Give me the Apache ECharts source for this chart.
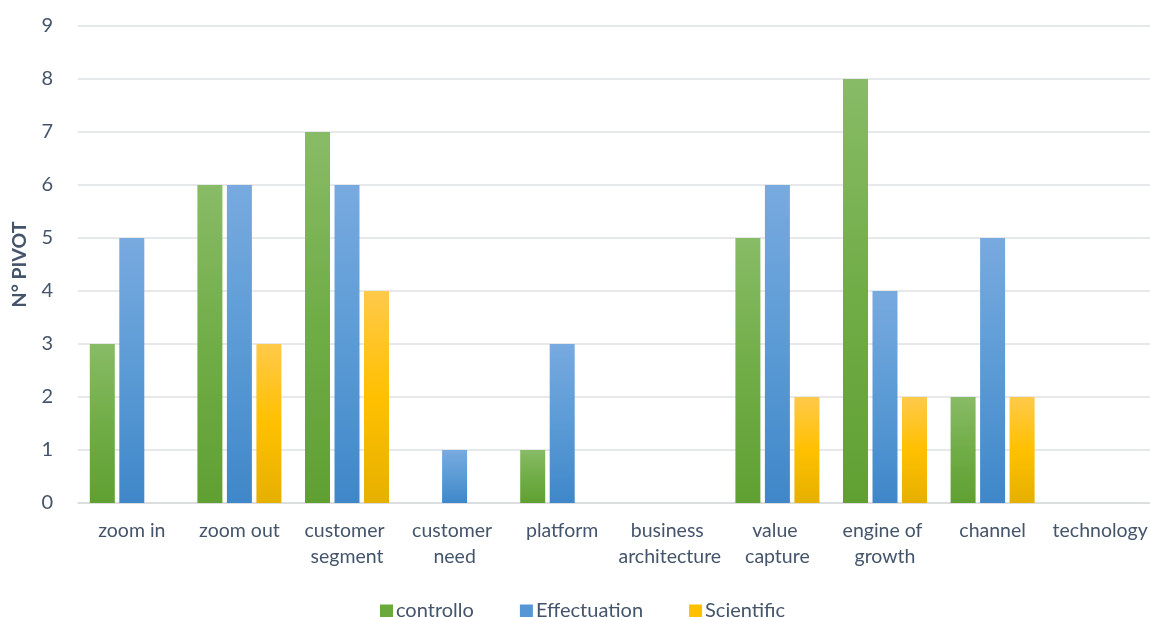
<!DOCTYPE html>
<html>
<head>
<meta charset="utf-8">
<script src="https://cdn.jsdelivr.net/npm/echarts@6/dist/echarts.min.js"></script>
<style>
  html, body { margin: 0; padding: 0; background: #ffffff; }
  #chart { width: 1150px; height: 617px; }
</style>
</head>
<body>
<div id="chart"></div>
<script>
// Pivot counts per business-model dimension
const categories = ['zoom in', 'zoom out', 'customer segment', 'customer need', 'platform',
  'business architecture', 'value capture', 'engine of growth', 'channel', 'technology'];
const controllo = [3, 6, 7, 0, 1, 0, 5, 8, 2, 0];
const effectuation = [5, 6, 6, 1, 3, 0, 6, 4, 5, 0];
const scientific = [0, 3, 4, 0, 0, 0, 2, 2, 2, 0];
const yTicks = [0, 1, 2, 3, 4, 5, 6, 7, 8, 9];

const textColor = '#44546a';
const fontFamily = 'Lato, "Open Sans", sans-serif';

function grad(top, mid, bottom) {
  return new echarts.graphic.LinearGradient(0, 0, 0, 1, [
    { offset: 0, color: top },
    { offset: 0.5, color: mid },
    { offset: 1, color: bottom }
  ]);
}

const colors = {
  controllo: { top: '#88bb66', mid: '#70ad47', bottom: '#60a032', flat: '#6aaa3c' },
  effectuation: { top: '#78aadf', mid: '#5b9bd5', bottom: '#3f87c9', flat: '#5596d4' },
  scientific: { top: '#ffc94a', mid: '#ffc000', bottom: '#e6b000', flat: '#ffc000' }
};

function barSeries(name, data, c) {
  return {
    name: name,
    type: 'bar',
    data: data,
    barWidth: 25,
    barGap: '18%',
    itemStyle: { color: grad(c.top, c.mid, c.bottom) }
  };
}

const chart = echarts.init(document.getElementById('chart'), null, { renderer: 'canvas' });
chart.setOption({
  animation: false,
  backgroundColor: '#ffffff',
  textStyle: { fontFamily: fontFamily },
  grid: {
    left: 78, width: 1076, top: 26, bottom: 114,
    containLabel: false,
    outerBoundsMode: 'none'
  },
  legend: {
    top: 596,
    left: 375,
    itemWidth: 13,
    itemHeight: 13,
    itemGap: 46,
    icon: 'rect',
    textStyle: { color: textColor, fontSize: 20, fontFamily: fontFamily, padding: [0, 0, 0, -2] },
    data: [
      { name: 'controllo', itemStyle: { color: colors.controllo.flat } },
      { name: 'Effectuation', itemStyle: { color: colors.effectuation.flat } },
      { name: 'Scientific', itemStyle: { color: colors.scientific.flat } }
    ]
  },
  xAxis: {
    type: 'category',
    data: categories,
    axisLine: { show: true, lineStyle: { color: '#d9d9d9', width: 1.5 } },
    axisTick: { show: false },
    axisLabel: {
      color: textColor,
      fontSize: 19.5,
      fontFamily: fontFamily,
      margin: 15,
      lineHeight: 26,
      width: 104,
      overflow: 'break',
      interval: 0
    }
  },
  yAxis: {
    type: 'value',
    min: yTicks[0],
    max: yTicks[yTicks.length - 1],
    interval: 1,
    name: 'N° PIVOT',
    nameLocation: 'middle',
    nameGap: 48,
    nameRotate: 90,
    nameTextStyle: { color: textColor, fontSize: 19.5, fontWeight: 'bold', fontFamily: fontFamily },
    axisLine: { show: false },
    axisTick: { show: false },
    axisLabel: { color: textColor, fontSize: 20, fontFamily: fontFamily, margin: 25 },
    splitLine: { lineStyle: { color: '#dfe1e6', width: 1.5 } }
  },
  series: [
    barSeries('controllo', controllo, colors.controllo),
    barSeries('Effectuation', effectuation, colors.effectuation),
    barSeries('Scientific', scientific, colors.scientific)
  ]
});
</script>
</body>
</html>
